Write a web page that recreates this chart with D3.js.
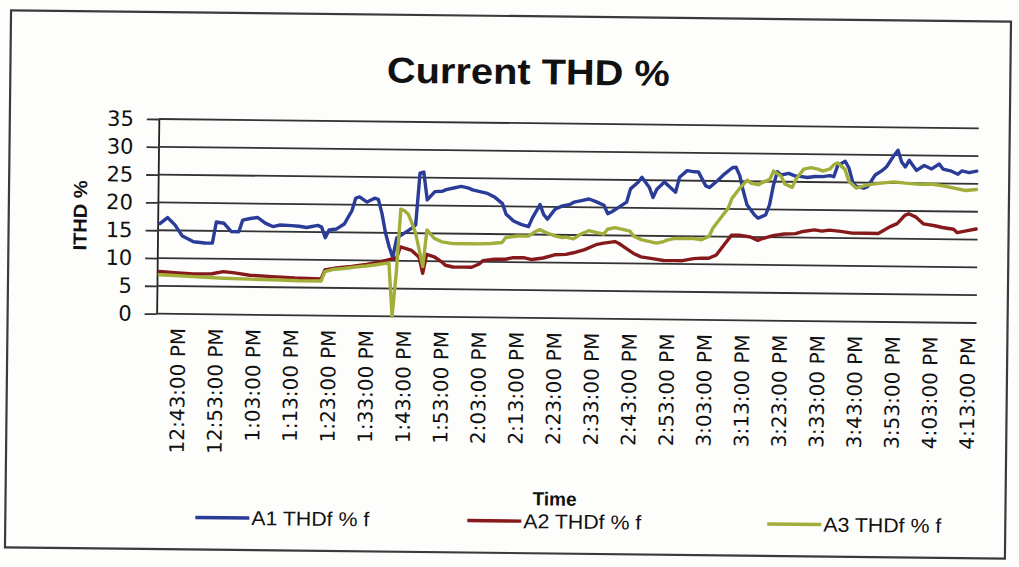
<!DOCTYPE html>
<html><head><meta charset="utf-8">
<script src="https://cdn.jsdelivr.net/npm/d3@7/dist/d3.min.js"></script>
<style>html,body{margin:0;padding:0;background:#fff;}svg{display:block;}</style>
</head><body>
<svg id="chart" width="1019" height="567"></svg>
<script>
const chartTitle = "Current THD %";
const yTitle = "ITHD %";
const xTitle = "Time";
const seriesNames = ["A1 THDf % f", "A2 THDf % f", "A3 THDf % f"];
const seriesColors = ["#2a3c98", "#861a1a", "#a2ae3a"];
const yTicks = [0, 5, 10, 15, 20, 25, 30, 35];
const xTickLabels = ["12:43:00 PM","12:53:00 PM","1:03:00 PM","1:13:00 PM","1:23:00 PM","1:33:00 PM",
  "1:43:00 PM","1:53:00 PM","2:03:00 PM","2:13:00 PM","2:23:00 PM","2:33:00 PM","2:43:00 PM",
  "2:53:00 PM","3:03:00 PM","3:13:00 PM","3:23:00 PM","3:33:00 PM","3:43:00 PM","3:53:00 PM",
  "4:03:00 PM","4:13:00 PM"];
const timeRange = ["12:37:24", "4:15:24"];

const a1 = [["12:38",16.2],["12:40",17.3],["12:42",16.0],["12:44",14.0],["12:47",13.0],["12:50",12.8],
  ["12:52",12.8],["12:53",16.6],["12:55",16.4],["12:57",14.9],["12:59",14.9],["1:00",17.0],["1:02",17.3],
  ["1:04",17.5],["1:06",16.5],["1:08",15.9],["1:10",16.2],["1:13",16.1],["1:15",16.0],["1:17",15.8],
  ["1:20",16.2],["1:21",15.9],["1:22",14.0],["1:23",15.4],["1:25",15.6],["1:27",16.5],["1:29",18.9],
  ["1:30",21.2],["1:31",21.4],["1:33",20.5],["1:35",21.2],["1:36",21.0],["1:37",18.5],["1:38",15.0],
  ["1:39",12.5],["1:40",10.6],["1:41",14.1],["1:43",15.0],["1:45",15.9],["1:46",16.5],["1:47",25.8],
  ["1:48",26.0],["1:49",21.0],["1:51",22.5],["1:53",22.6],["1:54",22.9],["1:56",23.2],["1:58",23.5],
  ["2:00",23.2],["2:01",22.9],["2:03",22.6],["2:05",22.3],["2:07",21.6],["2:09",20.5],["2:10",18.6],
  ["2:12",17.4],["2:14",16.8],["2:16",16.4],["2:17",18.0],["2:19",20.4],["2:20",18.6],["2:21",17.8],
  ["2:23",19.6],["2:25",20.2],["2:27",20.5],["2:28",20.9],["2:30",21.2],["2:32",21.5],["2:34",21.0],
  ["2:36",20.4],["2:37",18.9],["2:38",19.2],["2:40",20.1],["2:42",21.0],["2:43",23.4],["2:45",24.6],
  ["2:46",25.5],["2:48",23.7],["2:49",21.9],["2:50",23.4],["2:52",24.7],["2:53",24.1],["2:55",22.9],
  ["2:56",25.6],["2:58",26.8],["3:00",26.6],["3:01",26.6],["3:03",24.1],["3:04",23.8],["3:06",25.0],
  ["3:08",26.3],["3:10",27.4],["3:11",27.5],["3:12",26.0],["3:13",23.2],["3:14",20.8],["3:16",19.0],
  ["3:17",18.4],["3:19",19.0],["3:20",20.8],["3:21",24.4],["3:22",26.8],["3:23",26.2],["3:25",26.5],
  ["3:27",26.0],["3:28",26.0],["3:30",25.8],["3:32",26.0],["3:34",26.0],["3:36",26.2],["3:37",26.0],
  ["3:38",28.0],["3:40",28.8],["3:41",27.6],["3:42",25.2],["3:43",24.3],["3:45",24.0],["3:46",24.3],
  ["3:48",26.4],["3:50",27.3],["3:51",27.9],["3:53",30.0],["3:54",30.9],["3:55",28.8],["3:56",27.9],
  ["3:57",29.1],["3:58",28.2],["3:59",27.3],["4:01",28.2],["4:02",27.9],["4:03",27.6],["4:05",28.5],
  ["4:06",27.6],["4:08",27.3],["4:10",26.7],["4:11",27.3],["4:13",27.0],["4:15",27.3]];

const a2 = [["12:38",7.6],["12:42",7.4],["12:47",7.2],["12:52",7.3],["12:55",7.7],["12:58",7.5],
  ["1:02",7.1],["1:08",6.9],["1:14",6.7],["1:21",6.6],["1:22",8.2],["1:25",8.6],["1:29",8.9],
  ["1:33",9.3],["1:37",9.8],["1:39",10.2],["1:41",10.5],["1:42",12.5],["1:45",11.9],["1:47",10.7],
  ["1:48",7.8],["1:49",11.2],["1:51",10.8],["1:53",9.9],["1:54",9.3],["1:56",9.0],["1:59",9.0],
  ["2:01",9.0],["2:03",9.6],["2:04",10.2],["2:07",10.5],["2:10",10.5],["2:12",10.8],["2:15",10.8],
  ["2:17",10.5],["2:20",10.8],["2:23",11.4],["2:26",11.5],["2:28",11.8],["2:31",12.4],["2:34",13.3],
  ["2:36",13.6],["2:39",13.9],["2:40",13.6],["2:42",12.7],["2:44",11.8],["2:46",11.2],["2:49",10.9],
  ["2:52",10.6],["2:55",10.6],["2:57",10.6],["3:00",11.0],["3:02",11.1],["3:04",11.1],["3:06",11.7],
  ["3:08",13.5],["3:10",15.3],["3:12",15.3],["3:15",15.0],["3:17",14.4],["3:18",14.7],["3:21",15.3],
  ["3:24",15.6],["3:27",15.7],["3:29",16.1],["3:32",16.4],["3:34",16.2],["3:36",16.4],["3:39",16.2],
  ["3:42",15.9],["3:46",15.9],["3:49",15.9],["3:52",17.1],["3:54",17.7],["3:56",19.2],["3:57",19.5],
  ["3:59",18.9],["4:01",17.7],["4:04",17.4],["4:06",17.1],["4:09",16.8],["4:10",16.2],["4:12",16.5],
  ["4:15",16.9]];

const a3 = [["12:38",7.0],["12:42",6.9],["12:48",6.7],["12:55",6.5],["1:02",6.4],["1:10",6.3],
  ["1:15",6.2],["1:21",6.2],["1:22",7.9],["1:24",8.3],["1:27",8.5],["1:30",8.8],["1:33",9.0],
  ["1:36",9.3],["1:39",9.6],["1:40",0.0],["1:41",8.0],["1:42",19.3],["1:43",19.0],["1:44",18.4],
  ["1:45",16.8],["1:46",15.0],["1:47",12.0],["1:48",9.0],["1:49",15.6],["1:51",14.1],["1:53",13.5],
  ["1:56",13.2],["2:00",13.2],["2:03",13.2],["2:06",13.3],["2:09",13.5],["2:10",14.4],["2:13",14.7],
  ["2:16",14.7],["2:18",15.6],["2:19",15.9],["2:21",15.3],["2:23",14.8],["2:25",14.5],["2:26",14.6],
  ["2:28",14.3],["2:30",15.2],["2:32",15.8],["2:34",15.5],["2:36",15.2],["2:37",16.1],["2:39",16.4],
  ["2:41",16.1],["2:43",15.8],["2:44",14.9],["2:46",14.3],["2:48",14.0],["2:50",13.7],["2:52",14.0],
  ["2:53",14.3],["2:55",14.6],["2:57",14.6],["3:00",14.6],["3:02",14.4],["3:04",15.0],["3:05",16.5],
  ["3:07",18.3],["3:09",20.1],["3:10",21.9],["3:12",23.7],["3:14",25.2],["3:15",24.7],["3:17",24.4],
  ["3:18",24.8],["3:20",25.4],["3:21",26.9],["3:23",26.0],["3:24",24.6],["3:26",24.0],["3:27",25.5],
  ["3:29",27.3],["3:31",27.6],["3:33",27.3],["3:34",27.0],["3:36",27.4],["3:37",28.2],["3:38",28.5],
  ["3:40",27.3],["3:41",25.2],["3:43",24.0],["3:46",24.6],["3:49",24.9],["3:53",25.2],["3:56",25.0],
  ["4:00",24.8],["4:03",24.9],["4:06",24.6],["4:09",24.2],["4:12",23.8],["4:15",24.0]];

function toMin(s) {
  const p = s.replace(/ ?PM/, "").split(":").map(Number);
  return (p[0] % 12) * 60 + p[1] + (p[2] || 0) / 60;
}

const svg = d3.select("#chart");
svg.append("rect").attr("width", 1019).attr("height", 567).attr("fill", "#fdfdfc");
const g = svg.append("g").attr("transform", "rotate(0.65, 510, 283)");

// outer frame
g.append("rect").attr("x", 8).attr("y", 16).attr("width", 1000).attr("height", 537)
  .attr("fill", "none").attr("stroke", "#3a3a3a").attr("stroke-width", 2.2);

const plot = {left: 157, right: 977, top: 123, bottom: 317.7};
const x = d3.scaleLinear().domain(timeRange.map(toMin)).range([plot.left, plot.right]);
const y = d3.scaleLinear().domain([0, 35]).range([plot.bottom, plot.top]);

// gridlines + y axis
const yAxis = d3.axisLeft(y).tickValues(yTicks).tickSize(12).tickSizeOuter(0).tickPadding(13);
const ya = g.append("g").attr("transform", `translate(${plot.left},0)`).call(yAxis);
ya.select(".domain").attr("stroke", "#222").attr("stroke-width", 1.8);
ya.selectAll(".tick line").attr("stroke", "#333").attr("stroke-width", 1.8);
ya.selectAll(".tick text").attr("font-family", "DejaVu Sans").attr("font-size", 21)
  .attr("fill", "#111");
g.append("g").selectAll("line").data(yTicks).join("line")
  .attr("x1", plot.left).attr("x2", plot.right)
  .attr("y1", d => y(d)).attr("y2", d => y(d))
  .attr("stroke", "#333").attr("stroke-width", 1.8);

// x axis labels
const xAxis = d3.axisBottom(x).tickValues(xTickLabels.map(toMin)).tickSize(0)
  .tickFormat((d, i) => xTickLabels[i]);
const xa = g.append("g").attr("transform", `translate(0,${plot.bottom})`).call(xAxis);
xa.select(".domain").remove();
xa.selectAll(".tick text")
  .attr("font-family", "DejaVu Sans").attr("font-size", 20).attr("fill", "#111")
  .attr("text-anchor", "end").attr("transform", "rotate(-90)")
  .attr("x", -14).attr("y", 0).attr("dy", "0.36em");

// series
const line = d3.line().x(d => x(toMin(d[0]))).y(d => y(d[1]));
[a1, a2, a3].forEach((s, i) => {
  g.append("path").datum(s).attr("d", line).attr("fill", "none")
    .attr("stroke", seriesColors[i]).attr("stroke-width", 3.4)
    .attr("stroke-linejoin", "round").attr("stroke-linecap", "round");
});

// titles
g.append("text").attr("x", 526).attr("y", 84).attr("text-anchor", "middle")
  .attr("font-family", "Liberation Sans").attr("font-weight", "bold").attr("font-size", 36)
  .attr("textLength", 283).attr("lengthAdjust", "spacingAndGlyphs").attr("fill", "#111").text(chartTitle);
g.append("text").attr("transform", `translate(86,${(plot.top + plot.bottom) / 2}) rotate(-90)`)
  .attr("text-anchor", "middle").attr("font-family", "Liberation Sans").attr("font-weight", "bold")
  .attr("font-size", 19).attr("textLength", 70).attr("lengthAdjust", "spacingAndGlyphs")
  .attr("fill", "#111").text(yTitle);
g.append("text").attr("x", 557).attr("y", 505).attr("text-anchor", "middle")
  .attr("font-family", "Liberation Sans").attr("font-weight", "bold").attr("font-size", 19)
  .attr("fill", "#111").text(xTitle);

// legend
const legendX = [198, 470, 770];
const lg = g.append("g").selectAll("g").data(seriesNames).join("g")
  .attr("transform", (d, i) => `translate(${legendX[i]},521)`);
lg.append("line").attr("x1", 0).attr("x2", 54).attr("y1", 0).attr("y2", 0)
  .attr("stroke", (d, i) => seriesColors[i]).attr("stroke-width", 3.4);
lg.append("text").attr("x", 56).attr("y", 7).attr("font-family", "Liberation Sans, Arial, sans-serif")
  .attr("font-size", 20).attr("textLength", 118).attr("lengthAdjust", "spacingAndGlyphs")
  .attr("fill", "#111").text(d => d);
</script>
</body></html>
